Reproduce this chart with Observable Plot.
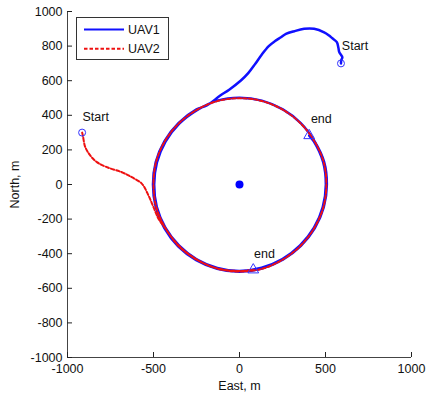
<!DOCTYPE html>
<html>
<head>
<meta charset="utf-8">
<script src="https://cdn.jsdelivr.net/npm/d3@7"></script>
<script src="https://cdn.jsdelivr.net/npm/@observablehq/plot@0.6"></script>
<style>
  html, body { margin: 0; padding: 0; background: #fff; }
  #chart { position: relative; width: 428px; height: 397px; }
</style>
</head>
<body>
<div id="chart"></div>
<script>
// ---- Data ----
const xTicks = [-1000, -500, 0, 500, 1000];
const yTicks = [-1000, -800, -600, -400, -200, 0, 200, 400, 600, 800, 1000];

// UAV1 trajectory (East, North in metres)
const uav1X = [590, 592, 598, 580, 575, 566, 540, 521, 492, 434, 376, 318, 270, 241, 205, 170, 130, 92, 52, 8, -60, -112, -190,
  -250, -355, -436, -487, -503, -487, -437, -357, -252, -130, 0, 130, 252, 357, 438, 490, 508, 492, 436, 356, 252, 130, 0, -129,
  -247, -350, -430, -480, -496, -481, -431, -352, -249, -129, 0, 129, 249, 352, 433, 484, 502, 486, 432, 405];
const uav1Y = [700, 720, 735, 765, 790, 823, 845, 861, 880, 900, 900, 886, 870, 851, 828, 800, 752, 698, 645, 601, 548, 514, 457,
  434, 355, 251, 130, 0, -131, -252, -357, -437, -487, -505, -486, -435, -355, -252, -131, 0, 131, 251, 355, 434, 485, 502, 485,
  430, 352, 248, 128, 0, -129, -249, -352, -432, -482, -500, -481, -431, -352, -250, -130, 0, 130, 249, 283];

// UAV2 trajectory
const uav2X = [-915, -910, -897, -868, -829, -771, -684, -626, -567, -529, -500, -471,
  -434, -355, -250, -129, 0, 131, 251, 355, 435, 488, 505, 489, 435, 355, 251, 129, 0, -129,
  -249, -353, -434, -485, -500, -484, -432, -353, -250, -130, 0, 80];
const uav2Y = [300, 279, 217, 168, 129, 100, 71, 42, 4, -64, -131, -198,
  -250, -355, -434, -486, -503, -487, -434, -354, -251, -130, 0, 131, 251, 354, 433, 483, 499, 482,
  431, 353, 250, 130, 0, -130, -250, -353, -433, -485, -500, -493];

// Start / end markers and the centre point
const startX = [590, -915];
const startY = [700, 300];
const endX = [405, 80];
const endY = [283, -493];
const centreX = [0];
const centreY = [0];

// Annotations
const noteText = ["Start", "Start", "end", "end"];
const noteX = [595, -913, 415, 85];
const noteY = [798, 393, 376, -400];

const seriesNames = ["UAV1", "UAV2"];

// ---- Build tables ----
const uav1 = uav1X.map((x, i) => ({x, y: uav1Y[i]}));
const uav2 = uav2X.map((x, i) => ({x, y: uav2Y[i]}));
const starts = startX.map((x, i) => ({x, y: startY[i]}));
const ends = endX.map((x, i) => ({x, y: endY[i]}));
const centre = centreX.map((x, i) => ({x, y: centreY[i]}));
const notes = noteText.map((t, i) => ({t, x: noteX[i], y: noteY[i]}));

const font = "'Liberation Sans', Arial, Helvetica, sans-serif";
const blue = "#1010ff";
const red = "#ee1111";

const chart = Plot.plot({
  width: 428,
  height: 397,
  marginLeft: 67,
  marginRight: 17,
  marginTop: 11,
  marginBottom: 40,
  style: {fontFamily: font, fontSize: "12.5px", color: "#222", background: "#fff"},
  x: {domain: [-1000, 1000]},
  y: {domain: [-1000, 1000]},
  marks: [
    Plot.line(uav1, {x: "x", y: "y", stroke: blue, strokeWidth: 2.5, curve: "catmull-rom"}),
    Plot.line(uav2, {x: "x", y: "y", stroke: red, strokeWidth: 2, strokeDasharray: "3.5,2", curve: "catmull-rom"}),
    Plot.dot(starts, {x: "x", y: "y", r: 3.5, stroke: "#3333ff", fill: "none", strokeWidth: 1}),
    Plot.dot(ends, {x: "x", y: "y", r: 4, symbol: "triangle", stroke: "#3333ff", fill: "none", strokeWidth: 1}),
    Plot.dot(centre, {x: "x", y: "y", r: 4, fill: "#0000ff", stroke: "none"}),
    Plot.text(notes, {x: "x", y: "y", text: "t", textAnchor: "start", fill: "#111", fontSize: 12.5}),
    Plot.ruleX([-1000], {stroke: "#444"}),
    Plot.ruleY([-1000], {stroke: "#444"}),
    Plot.axisX({ticks: xTicks, tickSize: -5, tickPadding: 12, tickFormat: d => String(d),
      label: "East, m", labelAnchor: "center", labelOffset: 32, labelArrow: "none", fill: "#111"}),
    Plot.axisY({ticks: yTicks, tickSize: -5, tickPadding: 10, tickFormat: d => String(d),
      label: "North, m", labelAnchor: "center", labelOffset: 57, labelArrow: "none", fill: "#111"})
  ]
});

document.getElementById("chart").appendChild(chart);

// ---- Legend box (top-left, inside the axes) ----
const svg = d3.select(chart);
const lg = svg.append("g").attr("class", "legend")
  .style("font-family", font).style("font-size", "12.5px").attr("text-anchor", "start");
lg.append("rect").attr("x", 76.5).attr("y", 17.5).attr("width", 92).attr("height", 42)
  .attr("fill", "#fff").attr("stroke", "#333").attr("stroke-width", 1);
const legendStyles = [
  {stroke: blue, dash: null},
  {stroke: red, dash: "3.5,2"}
];
seriesNames.forEach((name, i) => {
  const yy = 29.5 + i * 19.3;
  lg.append("line").attr("x1", 84).attr("x2", 124).attr("y1", yy).attr("y2", yy)
    .attr("stroke", legendStyles[i].stroke).attr("stroke-width", 2)
    .attr("stroke-dasharray", legendStyles[i].dash);
  lg.append("text").attr("x", 128).attr("y", yy + 4.5).attr("fill", "#111")
    .attr("text-anchor", "start").text(name);
});
</script>
</body>
</html>
